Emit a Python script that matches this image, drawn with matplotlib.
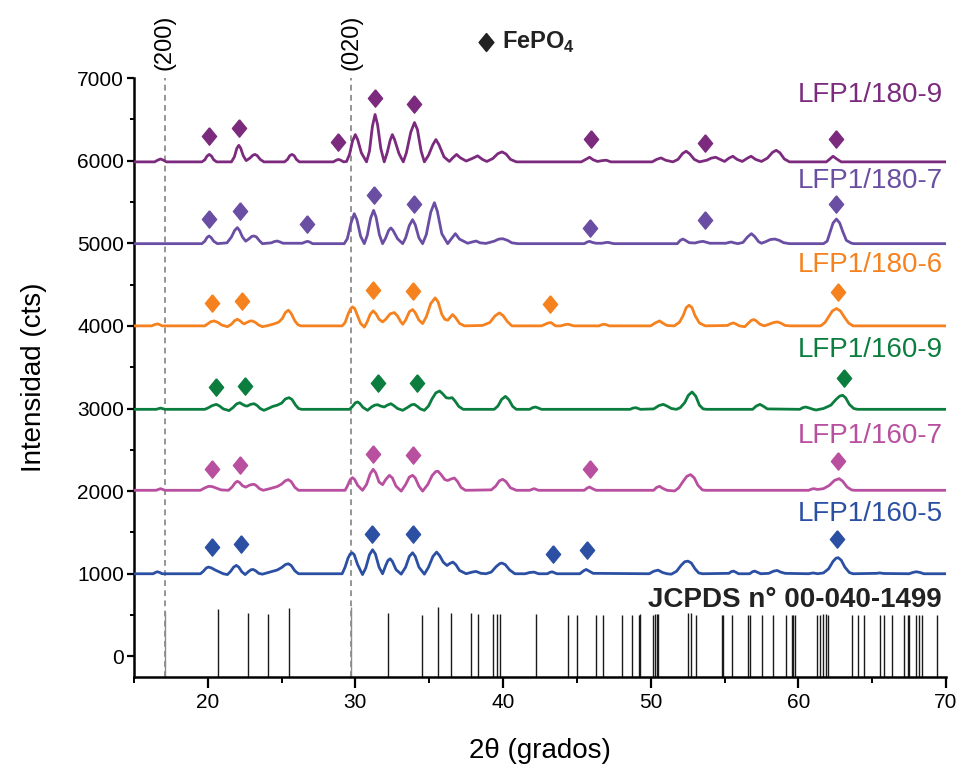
import matplotlib
matplotlib.use("Agg")
import matplotlib.pyplot as plt

plt.rcParams['font.family'] = ['Liberation Sans', 'DejaVu Sans']
plt.rcParams['mathtext.fontset'] = 'custom'
plt.rcParams['mathtext.rm'] = 'Liberation Sans'
plt.rcParams['mathtext.bf'] = 'Liberation Sans:bold'

# ---------------- data: (2theta, intensity above each baseline) ----------------
pts_180_9 = [(15, 0), (16.4, 0), (16.6, 20), (16.8, 35), (17.0, 20), (17.2, 0), (19.6, 0),
             (19.8, 25), (19.95, 70), (20.1, 90), (20.25, 70), (20.4, 25), (20.6, 0),
             (21.6, 0), (21.8, 60), (21.97, 165), (22.1, 200), (22.23, 165), (22.4, 75), (22.6, 15),
             (22.85, 45), (23.05, 80), (23.2, 90), (23.35, 75), (23.55, 30), (23.8, 0),
             (25.2, 0), (25.4, 30), (25.55, 75), (25.7, 90), (25.85, 75), (26.0, 30), (26.2, 0),
             (28.5, 0), (28.7, 20), (28.85, 30), (29.0, 20), (29.2, 0), (29.4, 5),
             (29.6, 90), (29.8, 250), (29.99, 330), (30.15, 270), (30.4, 110), (30.75, 0),
             (30.95, 130), (31.15, 430), (31.33, 573), (31.5, 450), (31.72, 160), (31.95, 0),
             (32.15, 110), (32.35, 260), (32.5, 330), (32.65, 270), (32.95, 100), (33.24, 0),
             (33.45, 110), (33.75, 360), (34.0, 476), (34.2, 390), (34.45, 130), (34.67, 0),
             (34.95, 80), (35.25, 210), (35.45, 270), (35.65, 210), (36.0, 60), (36.36, 5),
             (36.6, 50), (36.85, 90), (37.1, 50), (37.5, 10),
             (37.9, 40), (38.28, 73), (38.6, 30), (38.9, 5),
             (39.3, 40), (39.65, 100), (39.93, 121), (40.2, 95), (40.5, 30), (40.9, 0),
             (45.3, 0), (45.6, 30), (45.86, 56), (46.1, 25), (46.4, 5), (46.7, 15), (46.99, 20), (47.3, 0),
             (50.1, 0), (50.4, 30), (50.7, 48), (51.0, 20), (51.5, 0),
             (51.85, 30), (52.15, 100), (52.4, 129), (52.65, 95), (52.95, 30), (53.3, 0),
             (53.8, 20), (54.1, 45), (54.4, 56), (54.7, 30), (55.0, 5), (55.3, 45), (55.56, 68), (55.85, 30),
             (56.2, 5), (56.55, 45), (56.8, 68), (57.1, 30), (57.5, 5),
             (57.9, 45), (58.25, 115), (58.5, 140), (58.75, 110), (59.05, 35), (59.4, 0),
             (61.9, 0), (62.1, 30), (62.35, 68), (62.6, 35), (62.9, 0), (70, 0)]

pts_180_7 = [(15, 0), (19.6, 0), (19.8, 30), (19.95, 75), (20.09, 93), (20.22, 75), (20.4, 30), (20.65, 0),
             (21.3, 10), (21.6, 80), (21.82, 160), (22.0, 194), (22.15, 160), (22.35, 80), (22.57, 30),
             (22.8, 60), (22.98, 88), (23.14, 93), (23.3, 80), (23.5, 35), (23.7, 0),
             (24.3, 10), (24.5, 25), (24.7, 32), (24.9, 20), (25.1, 5),
             (26.4, 5), (26.6, 20), (26.75, 28), (26.9, 20), (27.1, 0),
             (29.24, 0), (29.45, 60), (29.7, 250), (29.92, 363), (30.1, 290), (30.35, 90), (30.6, 0),
             (30.8, 100), (31.03, 310), (31.23, 403), (31.4, 320), (31.62, 110), (31.84, 0),
             (32.05, 70), (32.25, 160), (32.4, 190), (32.55, 160), (32.85, 60), (33.2, 0),
             (33.4, 70), (33.65, 220), (33.87, 290), (34.05, 230), (34.3, 70), (34.55, 0),
             (34.8, 110), (35.1, 380), (35.35, 496), (35.55, 390), (35.85, 120), (36.25, 0),
             (36.5, 60), (36.77, 121), (37.05, 55), (37.6, 5),
             (37.9, 20), (38.17, 32), (38.45, 10), (38.84, 3),
             (39.4, 30), (39.7, 55), (39.97, 60), (40.3, 40), (40.6, 10), (41.0, 0),
             (45.5, 0), (45.7, 20), (45.86, 28), (46.05, 15), (46.3, 5), (46.7, 5), (46.9, 12), (47.1, 16),
             (47.3, 8), (47.5, 0),
             (51.8, 0), (52.0, 40), (52.18, 56), (52.35, 40), (52.6, 12), (53.0, 8), (53.3, 22), (53.54, 28),
             (53.75, 18), (54.0, 5),
             (55.1, 5), (55.3, 15), (55.46, 20), (55.65, 10), (55.9, 0),
             (56.25, 15), (56.55, 80), (56.82, 121), (57.05, 85), (57.3, 25), (57.5, 5),
             (57.8, 25), (58.1, 50), (58.4, 56), (58.7, 40), (59.0, 12), (59.4, 0),
             (61.7, 0), (61.95, 30), (62.15, 140), (62.35, 250), (62.58, 298), (62.8, 250), (63.0, 150),
             (63.25, 40), (63.6, 5), (63.8, 0), (70, 0)]

pts_180_6 = [(15, 0), (16.2, 0), (16.4, 15), (16.58, 24), (16.75, 15), (16.9, 0), (19.8, 0),
             (20.0, 25), (20.2, 50), (20.43, 60), (20.65, 45), (20.95, 10), (21.33, -10),
             (21.6, 20), (21.8, 60), (22.0, 80), (22.2, 60), (22.35, 35), (22.46, 25),
             (22.7, 45), (22.85, 58), (23.0, 60), (23.2, 45), (23.45, 10), (23.7, -10),
             (24.1, 5), (24.5, 25), (24.8, 45), (25.05, 90), (25.25, 160), (25.46, 190), (25.65, 150),
             (25.9, 60), (26.1, 15), (26.3, 0),
             (29.1, 0), (29.3, 40), (29.5, 140), (29.65, 200), (29.8, 230), (29.95, 210), (30.15, 120),
             (30.35, 30), (30.6, -15),
             (30.8, 50), (31.0, 140), (31.2, 182), (31.4, 145), (31.6, 80), (31.84, 48),
             (32.05, 80), (32.35, 145), (32.63, 161), (32.85, 120), (33.05, 55), (33.2, 20),
             (33.4, 70), (33.65, 170), (33.87, 198), (34.05, 160), (34.3, 70), (34.55, 28),
             (34.8, 110), (35.1, 270), (35.4, 339), (35.6, 290), (35.85, 140), (36.05, 80), (36.25, 68),
             (36.4, 100), (36.58, 137), (36.78, 100), (37.05, 30), (37.38, 0),
             (38.6, 5), (39.1, 40), (39.45, 120), (39.75, 157), (40.0, 125), (40.3, 50), (40.6, 0),
             (42.6, 0), (42.85, 20), (43.05, 35), (43.25, 40), (43.4, 20), (43.55, 0), (43.9, 0),
             (44.2, 15), (44.4, 20), (44.6, 10), (44.8, 0),
             (46.5, 0), (46.7, 15), (46.87, 20), (47.05, 10), (47.2, 0),
             (50.0, 0), (50.3, 35), (50.6, 60), (50.85, 30), (51.1, 5), (51.6, 0),
             (51.95, 45), (52.2, 125), (52.4, 220), (52.6, 250), (52.8, 220), (53.0, 125), (53.3, 35),
             (53.7, 0),
             (55.2, 5), (55.4, 25), (55.6, 36), (55.8, 20), (56.0, 0), (56.37, -10),
             (56.6, 30), (56.8, 65), (56.98, 77), (57.15, 60), (57.4, 20), (57.7, 0),
             (58.1, 25), (58.35, 42), (58.6, 48), (58.85, 30), (59.1, 5), (59.5, 0),
             (61.5, 0), (61.8, 40), (62.05, 110), (62.3, 180), (62.58, 210), (62.85, 180), (63.1, 110),
             (63.4, 35), (63.7, 0), (70, 0)]

pts_160_9 = [(15, 0), (16.5, 0), (16.8, 15), (17.1, 0), (19.8, 0),
             (20.05, 20), (20.3, 45), (20.58, 60), (20.8, 40), (21.05, 5), (21.44, -15),
             (21.7, 20), (21.95, 65), (22.17, 80), (22.35, 60), (22.55, 42), (22.68, 40),
             (22.9, 60), (23.14, 68), (23.35, 45), (23.55, 10), (23.8, -12),
             (24.1, 10), (24.4, 35), (24.7, 50), (25.0, 75), (25.25, 125), (25.5, 141), (25.7, 120),
             (25.95, 50), (26.15, 10), (26.35, 0),
             (29.6, 0), (29.8, 35), (30.0, 80), (30.15, 89), (30.3, 70), (30.5, 25), (30.82, -12),
             (31.1, 30), (31.3, 50), (31.5, 56), (31.7, 40), (31.95, 28), (32.15, 50), (32.4, 68),
             (32.6, 45), (32.85, 10), (33.2, -12),
             (33.55, 25), (33.8, 55), (33.99, 60), (34.2, 35), (34.4, 5), (34.67, -12),
             (34.95, 40), (35.2, 130), (35.45, 200), (35.7, 222), (35.9, 190), (36.15, 140), (36.35, 135),
             (36.55, 141), (36.75, 100), (37.0, 35), (37.3, 0),
             (39.4, 0), (39.65, 40), (39.9, 120), (40.16, 157), (40.4, 115), (40.65, 35), (40.9, 0),
             (41.8, 0), (42.0, 20), (42.2, 28), (42.4, 15), (42.6, 0),
             (48.6, 0), (48.8, 15), (49.0, 20), (49.15, 10), (49.3, 0),
             (50.2, 5), (50.55, 45), (50.85, 60), (51.1, 40), (51.4, 10), (51.74, 0),
             (52.0, 20), (52.3, 80), (52.55, 170), (52.8, 210), (53.05, 160), (53.3, 50), (53.55, 5),
             (53.8, 0),
             (56.9, 0), (57.15, 40), (57.4, 60), (57.65, 35), (57.9, 5),
             (60.1, 0), (60.3, 20), (60.5, 28), (60.75, 15), (61.0, 0), (61.2, -8),
             (61.7, 10), (62.2, 50), (62.55, 120), (62.8, 160), (63.0, 170), (63.2, 140), (63.45, 60),
             (63.75, 10), (64.0, 0), (70, 0)]

pts_160_7 = [(15, 0), (16.5, 0), (16.8, 20), (17.1, 0), (19.5, 0),
             (19.75, 25), (20.05, 48), (20.3, 45), (20.6, 25), (20.9, 5), (21.4, 0),
             (21.65, 40), (21.85, 90), (22.0, 109), (22.15, 95), (22.35, 55), (22.57, 38),
             (22.8, 60), (22.98, 70), (23.14, 72), (23.3, 55), (23.5, 20), (23.75, 0),
             (24.1, 15), (24.4, 30), (24.7, 45), (25.0, 75), (25.25, 115), (25.45, 129), (25.65, 105),
             (25.9, 35), (26.15, 0),
             (29.3, 0), (29.45, 50), (29.65, 130), (29.8, 153), (29.95, 130), (30.15, 60), (30.48, 0),
             (30.75, 70), (31.0, 200), (31.2, 254), (31.38, 210), (31.6, 100), (31.84, 68),
             (32.05, 130), (32.3, 181), (32.5, 150), (32.75, 50), (33.1, -10),
             (33.4, 70), (33.65, 160), (33.87, 181), (34.05, 150), (34.3, 50), (34.55, -10),
             (34.9, 70), (35.2, 180), (35.45, 228), (35.6, 230), (35.8, 190), (36.05, 130), (36.25, 118),
             (36.45, 135), (36.7, 149), (36.9, 110), (37.15, 35), (37.45, 0),
             (39.2, 5), (39.5, 50), (39.75, 115), (39.97, 133), (40.2, 105), (40.5, 30), (40.9, 0),
             (41.8, 0), (42.1, 20), (42.4, 0),
             (45.5, 0), (45.7, 28), (45.86, 40), (46.05, 20), (46.3, 0),
             (50.2, 0), (50.4, 35), (50.6, 48), (50.8, 25), (51.1, 0), (51.62, -8),
             (51.9, 30), (52.2, 110), (52.45, 170), (52.7, 190), (52.95, 150), (53.2, 60), (53.5, 5),
             (53.7, 0),
             (60.7, 0), (60.9, 15), (61.05, 20), (61.3, 10), (61.7, 20), (62.1, 60), (62.45, 120),
             (62.76, 141), (63.0, 110), (63.3, 40), (63.6, 5), (63.8, 0), (70, 0)]

pts_160_5 = [(15, 0), (16.3, 0), (16.45, 15), (16.58, 24), (16.75, 15), (16.9, 0), (19.5, 0),
             (19.7, 30), (19.9, 70), (20.05, 81), (20.25, 70), (20.5, 45), (20.8, 20), (21.05, 0),
             (21.33, -10),
             (21.55, 30), (21.75, 80), (21.93, 101), (22.1, 80), (22.3, 25), (22.53, -10),
             (22.75, 25), (22.92, 48), (23.07, 52), (23.25, 35), (23.45, 5), (23.7, -5),
             (24.1, 15), (24.4, 30), (24.7, 45), (25.0, 75), (25.25, 110), (25.45, 121), (25.65, 100),
             (25.9, 35), (26.15, 0),
             (29.1, 0), (29.3, 80), (29.5, 190), (29.65, 240), (29.78, 254), (29.92, 230), (30.15, 110),
             (30.48, -10),
             (30.7, 70), (30.95, 230), (31.16, 290), (31.35, 240), (31.6, 80), (31.84, 0),
             (32.05, 100), (32.2, 160), (32.35, 181), (32.5, 150), (32.75, 50), (33.1, -5),
             (33.4, 80), (33.65, 210), (33.87, 254), (34.05, 210), (34.3, 80), (34.67, -5),
             (34.95, 80), (35.25, 210), (35.5, 262), (35.7, 220), (35.95, 140), (36.2, 100),
             (36.4, 125), (36.6, 141), (36.8, 110), (37.05, 40), (37.5, 0),
             (37.9, 20), (38.17, 28), (38.5, 5), (38.84, 0),
             (39.2, 20), (39.55, 90), (39.8, 125), (39.93, 129), (40.15, 110), (40.45, 45), (40.8, 0),
             (41.5, 0), (41.8, 15), (42.1, 20), (42.4, 0),
             (43.0, 0), (43.15, 15), (43.32, 24), (43.5, 10), (43.65, 0),
             (45.2, 0), (45.45, 35), (45.63, 52), (45.85, 30), (46.1, 5),
             (49.9, 0), (50.2, 30), (50.5, 44), (50.8, 15), (51.1, 0), (51.4, -5),
             (51.75, 30), (52.05, 100), (52.3, 145), (52.52, 153), (52.75, 130), (53.0, 60), (53.25, 10),
             (53.5, 0),
             (55.3, 5), (55.45, 25), (55.6, 32), (55.75, 20), (55.95, 0),
             (56.7, 0), (56.9, 25), (57.05, 32), (57.2, 20), (57.45, 0),
             (58.0, 5), (58.3, 30), (58.56, 40), (58.8, 20), (59.1, 5),
             (60.7, 0), (61.0, 10), (61.3, 0),
             (61.7, 10), (62.05, 60), (62.35, 150), (62.55, 188), (62.7, 194), (62.9, 165), (63.15, 80),
             (63.45, 15), (63.7, 0),
             (65.3, 5), (65.5, 10), (65.8, 3), (67.5, 0), (67.8, 18), (68.0, 24), (68.25, 15), (68.5, 0),
             (70, 0)]

series_names = ['LFP1/160-5', 'LFP1/160-7', 'LFP1/160-9', 'LFP1/180-6', 'LFP1/180-7', 'LFP1/180-9']
series_pts = [pts_160_5, pts_160_7, pts_160_9, pts_180_6, pts_180_7, pts_180_9]
offsets = [1000, 2010, 2990, 4000, 4995, 5985]
colors = ['#2a4fa3', '#b84f9f', '#0b7d3e', '#f5821f', '#6a4ea3', '#7b2a7d']
label_y = [1720, 2665, 3705, 4740, 5750, 6790]

# FePO4 diamond markers (2theta, absolute height)
dia_x = [
    [20.26, 22.23, 31.1, 33.87, 43.36, 45.7, 62.65],
    [20.26, 22.17, 31.2, 33.9, 45.86, 62.7],
    [20.58, 22.53, 31.5, 34.15, 63.08],
    [20.3, 22.3, 31.2, 33.9, 43.15, 62.7],
    [20.09, 22.17, 26.75, 31.27, 33.99, 45.9, 53.66, 62.58],
    [20.05, 22.1, 28.85, 31.33, 34.0, 45.97, 53.66, 62.58],
]
dia_y = [
    [1323, 1364, 1485, 1485, 1235, 1292, 1425],
    [2272, 2312, 2446, 2433, 2264, 2361],
    [3260, 3269, 3309, 3309, 3374],
    [4277, 4298, 4431, 4419, 4262, 4410],
    [5299, 5391, 5230, 5589, 5480, 5190, 5278, 5472],
    [6295, 6389, 6223, 6764, 6691, 6264, 6214, 6264],
]

# JCPDS 00-040-1499 reference sticks
stick_pos = [17.1, 20.7, 22.7, 24.05, 25.5, 29.7, 32.2, 34.5, 35.6, 36.5, 37.85, 38.3, 39.35, 39.6, 39.8,
             42.25, 44.4, 44.98, 46.3, 46.8, 48.07, 48.7, 49.23, 49.3, 50.18, 50.3, 50.4, 50.5, 52.5, 52.7,
             53.1, 54.8, 54.9, 55.5, 56.6, 56.75, 57.56, 58.27, 59.13, 59.56, 59.65, 59.74, 61.23, 61.45,
             61.64, 61.84, 62.04, 63.65, 64.05, 64.46, 65.52, 65.8, 66.33, 67.15, 67.4, 67.5, 68.0, 68.14,
             68.37, 69.4]
stick_top = [533, 570, 520, 510, 580, 600, 530, 505, 595, 530, 520, 510, 515, 515, 515,
             515, 505, 505, 505, 505, 505, 505, 505, 510, 505, 515, 515, 515, 525, 525,
             505, 505, 505, 505, 505, 505, 505, 505, 505, 505, 505, 505, 505, 505,
             515, 515, 505, 505, 505, 505, 505, 505, 505, 505, 505, 505, 505, 505,
             505, 505]
plane_pos = [17.1, 29.7]
plane_labels = ['(200)', '(020)']

# ---------------- figure ----------------
fig = plt.figure(figsize=(9.61, 7.67), dpi=100)
ax = fig.add_axes([0.1394, 0.1173, 0.8450, 0.7810])
ax.set_xlim(15, 70)
ax.set_ylim(-250, 7000)

for xp in plane_pos:
    ax.axvline(xp, color='#8c8c8c', lw=1.3, ls=(0, (3.2, 2.4)), zorder=1)

for xs, ys in zip(stick_pos, stick_top):
    c = '#8c8c8c' if xs in plane_pos else '#1a1a1a'
    ax.vlines(xs, -250, ys, color=c, lw=1.0, zorder=2)

diamond = [(0, 1), (0.82, 0), (0, -1), (-0.82, 0), (0, 1)]
for pts, off, col, name, ly, dx, dy in zip(series_pts, offsets, colors, series_names,
                                           label_y, dia_x, dia_y):
    xs = [p[0] for p in pts]
    ys = [p[1] + off for p in pts]
    ax.plot(xs, ys, color=col, lw=2.0, solid_joinstyle='round', zorder=3)
    ax.plot(dx, dy, ls='none', marker=diamond, markersize=12.5, color=col, mec=col, zorder=4)
    ax.text(69.8, ly, name, color=col, fontsize=20, ha='right', va='center', zorder=5)

ax.text(69.7, 680, 'JCPDS n° 00-040-1499', color='#222222', fontsize=20, fontweight='bold',
        ha='right', va='center', zorder=5)

for xp, lab in zip(plane_pos, plane_labels):
    ax.text(xp, 7100, lab, rotation=90, ha='center', va='bottom', fontsize=17, clip_on=False)

ax.plot([38.85], [7430], ls='none', marker=diamond, markersize=13, color='#222222', clip_on=False)
ax.text(39.9, 7430, r'FePO$_\mathbf{4}$', fontsize=17, fontweight='bold', color='#222222',
        ha='left', va='center', clip_on=False)

ax.spines['top'].set_visible(False)
ax.spines['right'].set_visible(False)
for s in ['left', 'bottom']:
    ax.spines[s].set_linewidth(1.8)

ax.set_xticks([20, 30, 40, 50, 60, 70])
ax.set_xticks([15, 25, 35, 45, 55, 65], minor=True)
ax.set_yticks([0, 1000, 2000, 3000, 4000, 5000, 6000, 7000])
ax.set_yticks([500, 1500, 2500, 3500, 4500, 5500, 6500], minor=True)
ax.tick_params(axis='x', which='major', direction='out', length=8, width=1.6, labelsize=15)
ax.tick_params(axis='x', which='minor', direction='out', length=4.5, width=1.4)
ax.tick_params(axis='y', which='major', direction='out', length=5, width=1.6, labelsize=15, pad=2)
ax.tick_params(axis='y', which='minor', direction='out', length=3, width=1.4)
ax.set_xlabel('2θ (grados)', fontsize=20, labelpad=19)
ax.set_ylabel('Intensidad (cts)', fontsize=20, labelpad=22)

fig.savefig('out.png', dpi=100)
